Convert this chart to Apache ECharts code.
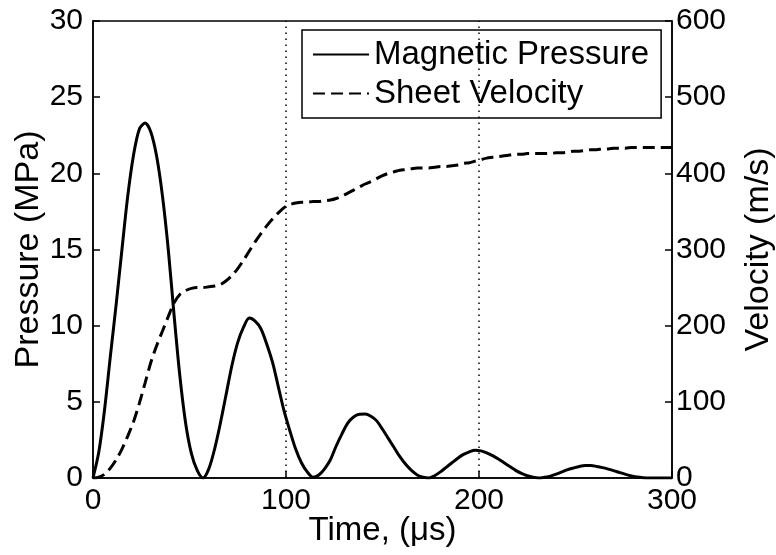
<!DOCTYPE html>
<html>
<head>
<meta charset="utf-8">
<script src="https://cdn.jsdelivr.net/npm/echarts@6/dist/echarts.min.js"></script>
<style>
  html, body { margin: 0; padding: 0; background: #fff; }
  #chart { width: 776px; height: 555px; }
</style>
</head>
<body>
<div id="chart"></div>
<script>
// time in microseconds
const time = [
  0, 3, 6, 9, 12, 15, 18, 21, 24, 27, 30, 33, 36, 39, 42, 45, 48, 51, 54, 57,
  60, 63, 66, 69, 72, 75, 78, 81, 84, 87, 90, 93, 96, 99, 102, 105, 108, 111, 114,
  117, 120, 123, 126, 129, 132, 135, 138, 141, 144, 147, 150, 153, 156, 159, 162, 165, 168, 171,
  174, 177, 180, 183, 186, 189, 192, 195, 198, 201, 204, 207, 210, 213, 216, 219, 222, 225, 228,
  231, 234, 237, 240, 243, 246, 249, 252, 255, 258, 261, 264, 267, 270, 273, 276, 279, 282, 285, 288, 291, 294, 297, 300
];
// magnetic pressure, MPa
const pressure = [
  0, 1.7, 4.5, 8.0, 11.4, 15.0, 18.5, 21.2, 22.9, 23.3, 22.7, 21.1, 18.5, 15.0, 10.7, 6.7, 3.6, 1.6, 0.5, 0.0,
  0.6, 1.9, 3.6, 5.5, 7.4, 8.9, 9.9, 10.5, 10.3, 9.8, 8.8, 7.6, 6.0, 4.4, 3.1, 1.9, 1.0, 0.4, 0.05,
  0.2, 0.6, 1.2, 2.1, 2.9, 3.6, 4.0, 4.18, 4.2, 4.05, 3.75, 3.2, 2.6, 2.0, 1.4, 0.9, 0.5, 0.2, 0.05,
  0.0, 0.15, 0.4, 0.7, 1.0, 1.3, 1.55, 1.72, 1.82, 1.78, 1.65, 1.47, 1.25, 1.0, 0.75, 0.5, 0.3, 0.15, 0.05,
  0.0, 0.05, 0.12, 0.25, 0.4, 0.55, 0.66, 0.76, 0.82, 0.82, 0.76, 0.68, 0.58, 0.47, 0.35, 0.24, 0.14, 0.06, 0.02, 0, 0, 0, 0, 0
];
// sheet velocity, m/s
const velocity = [
  0, 1, 5, 13, 24, 38, 55, 74, 98, 125, 152, 174, 193, 212, 230, 241, 246, 249, 250, 250,
  251, 252, 254, 259, 266, 275, 286, 298, 310, 321, 331, 340, 348, 355, 359, 361, 362, 362, 363,
  363, 364, 365, 367, 370, 374, 378, 382, 386, 389, 393, 397, 400, 402, 404, 405, 406, 407, 407,
  407, 408, 409, 409, 410, 411, 413, 414, 416, 418, 420, 421, 422, 423, 424, 425, 425, 426, 426,
  426, 426, 426, 427, 427, 428, 429, 429, 430, 431, 431, 432, 432, 433, 433, 433, 434, 434, 434, 434, 434, 434, 434, 434
];
const markTimes = [100, 200];

const font = 'Liberation Sans';
const chart = echarts.init(document.getElementById('chart'), null, { renderer: 'canvas' });

chart.setOption({
  animation: false,
  backgroundColor: '#fff',
  textStyle: { fontFamily: font, color: '#000' },
  grid: {
    left: 93, right: 104, top: 21, bottom: 77,
    outerBoundsMode: 'none',
    show: true, borderColor: '#000', borderWidth: 1.5, backgroundColor: 'transparent'
  },
  legend: {
    orient: 'vertical',
    left: 302, top: 30,
    padding: [8, 12, 8, 10],
    itemWidth: 56, itemHeight: 14, itemGap: 6,
    borderColor: '#000', borderWidth: 1.5, backgroundColor: '#fff',
    itemStyle: { color: 'transparent', borderWidth: 0 },
    textStyle: { fontFamily: font, fontSize: 33, color: '#000' },
    data: ['Magnetic Pressure', 'Sheet Velocity']
  },
  xAxis: {
    type: 'value', min: 0, max: 300, interval: 100,
    name: 'Time, (\u03bcs)', nameLocation: 'middle', nameGap: 36, nameMoveOverlap: false,
    nameTextStyle: { fontFamily: font, fontSize: 33, color: '#000' },
    axisLine: { show: true, lineStyle: { color: '#000', width: 1.5 } },
    axisTick: { show: true, inside: true, length: 7, lineStyle: { color: '#000', width: 1.5 } },
    axisLabel: { fontFamily: font, fontSize: 30, color: '#000', margin: 8 },
    splitLine: { show: false }
  },
  yAxis: [
    {
      type: 'value', min: 0, max: 30, interval: 5,
      name: 'Pressure (MPa)', nameLocation: 'middle', nameGap: 47, nameMoveOverlap: false,
      nameTextStyle: { fontFamily: font, fontSize: 34, color: '#000' },
      axisLine: { show: true, lineStyle: { color: '#000', width: 1.5 } },
      axisTick: { show: true, inside: true, length: 7, lineStyle: { color: '#000', width: 1.5 } },
      axisLabel: { fontFamily: font, fontSize: 30, color: '#000', margin: 10 },
      splitLine: { show: false }
    },
    {
      type: 'value', min: 0, max: 600, interval: 100, position: 'right',
      name: 'Velocity (m/s)', nameLocation: 'middle', nameGap: 70, nameMoveOverlap: false,
      nameTextStyle: { fontFamily: font, fontSize: 34, color: '#000' },
      axisLine: { show: true, lineStyle: { color: '#000', width: 1.5 } },
      axisTick: { show: true, inside: true, length: 7, lineStyle: { color: '#000', width: 1.5 } },
      axisLabel: { fontFamily: font, fontSize: 30, color: '#000', margin: 4 },
      splitLine: { show: false }
    }
  ],
  series: [
    {
      name: 'Magnetic Pressure',
      type: 'line',
      yAxisIndex: 0,
      symbol: 'none',
      smooth: 0.3,
      lineStyle: { color: '#000', width: 3, type: 'solid' },
      itemStyle: { color: '#000' },
      data: time.map((t, i) => [t, pressure[i]]),
      markLine: {
        silent: true,
        symbol: ['none', 'none'],
        label: { show: false },
        lineStyle: { color: '#000', width: 1.5, type: [1.5, 4.5] },
        data: markTimes.map(t => ({ xAxis: t }))
      }
    },
    {
      name: 'Sheet Velocity',
      type: 'line',
      yAxisIndex: 1,
      symbol: 'none',
      smooth: 0.3,
      lineStyle: { color: '#000', width: 3, type: [12, 6] },
      itemStyle: { color: '#000' },
      data: time.map((t, i) => [t, velocity[i]])
    }
  ]
});
</script>
</body>
</html>
